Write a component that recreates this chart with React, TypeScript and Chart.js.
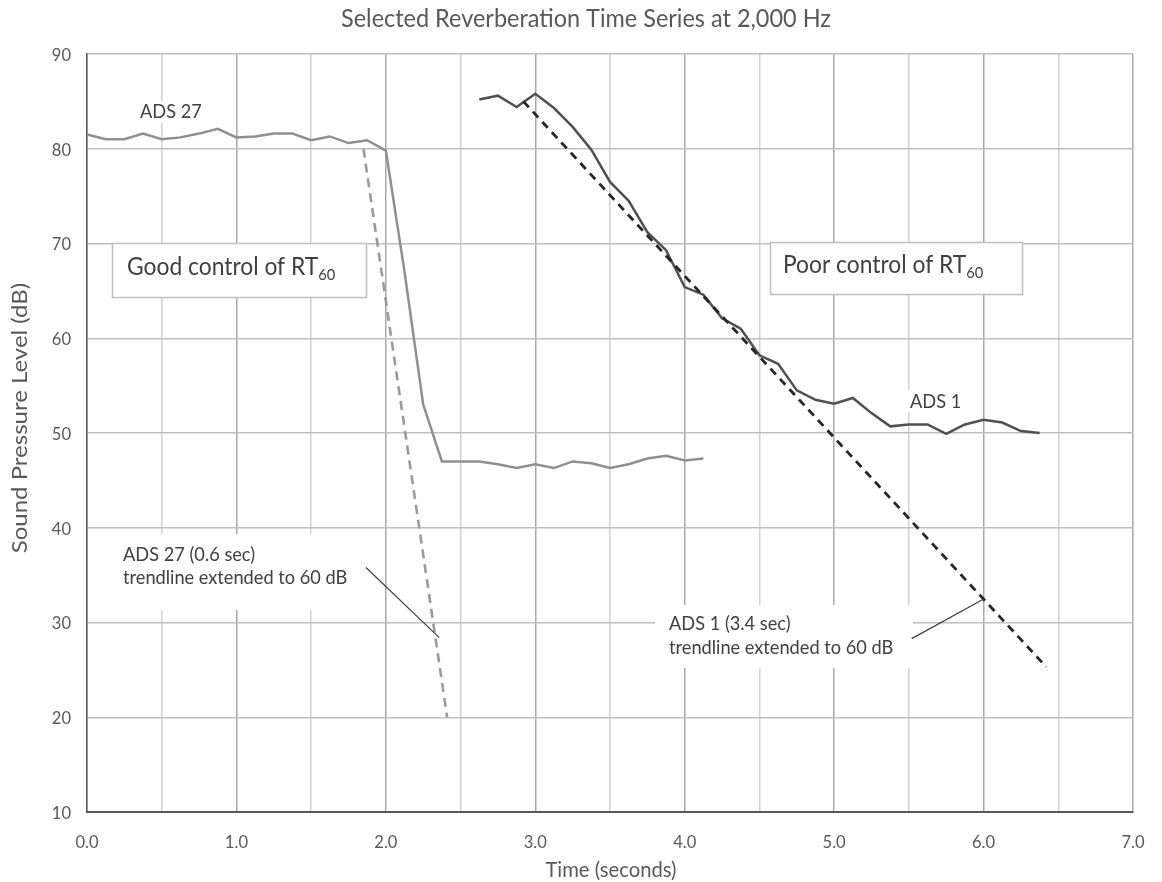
import { useEffect, useRef } from "react";
import { Chart, registerables } from "chart.js";

Chart.register(...registerables);

const FONT = "Lato, 'Open Sans', sans-serif";
// Excel-style text is slightly condensed horizontally
const SQUEEZE = 0.92;

const TITLE = "Selected Reverberation Time Series at 2,000 Hz";
const X_TITLE = "Time (seconds)";
const Y_TITLE = "Sound Pressure Level (dB)";

const X_TICKS = [0, 1, 2, 3, 4, 5, 6, 7];
const Y_TICKS = [10, 20, 30, 40, 50, 60, 70, 80, 90];

// ADS 27 – good control of reverberation
const ADS27_TIME = [
  0, 0.125, 0.25, 0.375, 0.5, 0.625, 0.75, 0.875, 1.0, 1.125, 1.25, 1.375,
  1.5, 1.625, 1.75, 1.875, 2.0, 2.125, 2.25, 2.375, 2.5, 2.625, 2.75, 2.875,
  3.0, 3.125, 3.25, 3.375, 3.5, 3.625, 3.75, 3.875, 4.0, 4.125,
];
const ADS27_SPL = [
  81.5, 81.0, 81.0, 81.6, 81.0, 81.2, 81.6, 82.1, 81.2, 81.3, 81.6, 81.6,
  80.9, 81.3, 80.6, 80.9, 79.8, 67.0, 53.0, 47.0, 47.0, 47.0, 46.7, 46.3,
  46.7, 46.3, 47.0, 46.8, 46.3, 46.7, 47.3, 47.6, 47.1, 47.3,
];

// ADS 1 – poor control of reverberation
const ADS1_TIME = [
  2.625, 2.75, 2.875, 3.0, 3.125, 3.25, 3.375, 3.5, 3.625, 3.75, 3.875, 4.0,
  4.125, 4.25, 4.375, 4.5, 4.625, 4.75, 4.875, 5.0, 5.125, 5.25, 5.375, 5.5,
  5.625, 5.75, 5.875, 6.0, 6.125, 6.25, 6.375,
];
const ADS1_SPL = [
  85.2, 85.6, 84.4, 85.8, 84.3, 82.3, 79.9, 76.5, 74.5, 71.2, 69.3, 65.4,
  64.6, 62.1, 61.0, 58.2, 57.3, 54.5, 53.5, 53.1, 53.7, 52.1, 50.7, 50.9,
  50.9, 49.9, 50.9, 51.4, 51.1, 50.2, 50.0,
];

// Linear decay trendlines extended to a 60 dB drop
const ADS27_TREND_TIME = [1.85, 2.41];
const ADS27_TREND_SPL = [80.0, 20.0];
const ADS1_TREND_TIME = [2.92, 6.42];
const ADS1_TREND_SPL = [85.0, 25.3];

// Callout leader lines (start near the text, end on the trendline)
const ADS27_LEADER_TIME = [1.867, 2.357];
const ADS27_LEADER_SPL = [35.8, 28.4];
const ADS1_LEADER_TIME = [5.519, 5.998];
const ADS1_LEADER_SPL = [28.3, 32.45];

const toPoints = (xs: number[], ys: number[]) =>
  xs.map((x, i) => ({ x, y: ys[i] }));

function drawText(
  ctx: CanvasRenderingContext2D,
  s: string,
  x: number,
  y: number,
  size: number,
  color: string,
  align: CanvasTextAlign = "left",
  baseline: CanvasTextBaseline = "alphabetic"
): number {
  ctx.save();
  ctx.font = `${size}px ${FONT}`;
  ctx.fillStyle = color;
  ctx.textAlign = align;
  ctx.textBaseline = baseline;
  ctx.translate(x, y);
  ctx.scale(SQUEEZE, 1);
  ctx.fillText(s, 0, 0);
  const w = ctx.measureText(s).width * SQUEEZE;
  ctx.restore();
  return w;
}

function whiteBox(
  ctx: CanvasRenderingContext2D,
  x: number,
  y: number,
  w: number,
  h: number,
  stroke?: string
) {
  ctx.save();
  ctx.fillStyle = "#ffffff";
  ctx.fillRect(x, y, w, h);
  if (stroke) {
    ctx.strokeStyle = stroke;
    ctx.lineWidth = 1.5;
    ctx.strokeRect(x + 0.5, y + 0.5, w, h);
  }
  ctx.restore();
}

const decorPlugin = {
  id: "decor",
  beforeDatasetsDraw(chart: any) {
    const ctx: CanvasRenderingContext2D = chart.ctx;
    // label backgrounds
    whiteBox(ctx, 136, 101, 66, 22);
    whiteBox(ctx, 905, 390, 58, 22);
    whiteBox(ctx, 110, 534, 254, 76);
    whiteBox(ctx, 655, 605, 258, 63);
    // RT60 boxes
    whiteBox(ctx, 112, 243, 254, 54, "#bfbfbf");
    whiteBox(ctx, 770, 242, 252, 52, "#bfbfbf");
  },
  afterDatasetsDraw(chart: any) {
    const ctx: CanvasRenderingContext2D = chart.ctx;
    const xs = chart.scales.x;
    const ys = chart.scales.y;
    const tickColor = "#595959";
    const textColor = "#404040";

    // tick labels
    X_TICKS.forEach((v) => {
      drawText(ctx, v.toFixed(1), xs.getPixelForValue(v), 842, 18, tickColor, "center", "middle");
    });
    Y_TICKS.forEach((v) => {
      drawText(ctx, String(v), 71, ys.getPixelForValue(v) + 1, 18, tickColor, "right", "middle");
    });

    // titles
    drawText(ctx, TITLE, 586, 19, 25.5, tickColor, "center", "middle");
    drawText(ctx, X_TITLE, 611, 870, 22, tickColor, "center", "middle");
    ctx.save();
    ctx.translate(20, 418);
    ctx.rotate(-Math.PI / 2);
    ctx.scale(1, SQUEEZE);
    ctx.font = `24px ${FONT}`;
    ctx.fillStyle = tickColor;
    ctx.textAlign = "center";
    ctx.textBaseline = "middle";
    ctx.fillText(Y_TITLE, 0, 0);
    ctx.restore();

    // RT60 box captions
    let w = drawText(ctx, "Good control of RT", 127, 275, 24.8, textColor);
    drawText(ctx, "60", 127 + w, 280, 16, textColor);
    w = drawText(ctx, "Poor control of RT", 783, 273, 24.8, textColor);
    drawText(ctx, "60", 783 + w, 278, 16, textColor);

    // series labels
    drawText(ctx, "ADS 27", 140, 118, 19.8, textColor);
    drawText(ctx, "ADS 1", 910, 408, 19.8, textColor);
    drawText(ctx, "ADS 27 (0.6 sec)", 123, 561, 19.8, textColor);
    drawText(ctx, "trendline extended to 60 dB", 123, 584, 19.8, textColor);
    drawText(ctx, "ADS 1 (3.4 sec)", 669, 630, 19.8, textColor);
    drawText(ctx, "trendline extended to 60 dB", 669, 654, 19.8, textColor);

    // leader lines
    const leader = (ts: number[], ss: number[]) => {
      ctx.save();
      ctx.strokeStyle = "#404040";
      ctx.lineWidth = 1.2;
      ctx.beginPath();
      ctx.moveTo(xs.getPixelForValue(ts[0]), ys.getPixelForValue(ss[0]));
      ctx.lineTo(xs.getPixelForValue(ts[1]), ys.getPixelForValue(ss[1]));
      ctx.stroke();
      ctx.restore();
    };
    leader(ADS27_LEADER_TIME, ADS27_LEADER_SPL);
    leader(ADS1_LEADER_TIME, ADS1_LEADER_SPL);
  },
};

export default function App() {
  const ref = useRef<HTMLCanvasElement | null>(null);

  useEffect(() => {
    document.body.style.margin = "0";
    const canvas = ref.current;
    if (!canvas) return;
    const chart = new Chart(canvas, {
      type: "line",
      data: {
        datasets: [
          {
            label: "ADS 27 trend",
            data: toPoints(ADS27_TREND_TIME, ADS27_TREND_SPL),
            borderColor: "#9a9a9a",
            borderWidth: 2.6,
            borderDash: [9, 6],
            order: 1,
          },
          {
            label: "ADS 1 trend",
            data: toPoints(ADS1_TREND_TIME, ADS1_TREND_SPL),
            borderColor: "#262626",
            borderWidth: 2.8,
            borderDash: [8, 6],
            order: 1,
          },
          {
            label: "ADS 27",
            data: toPoints(ADS27_TIME, ADS27_SPL),
            borderColor: "#8f8f8f",
            borderWidth: 2.5,
            order: 2,
          },
          {
            label: "ADS 1",
            data: toPoints(ADS1_TIME, ADS1_SPL),
            borderColor: "#505050",
            borderWidth: 2.5,
            order: 2,
          },
        ],
      },
      options: {
        animation: false,
        responsive: false,
        devicePixelRatio: 1,
        layout: { padding: { top: 54, right: 29, left: 0, bottom: 0 } },
        elements: { point: { radius: 0 }, line: { tension: 0 } },
        plugins: {
          legend: { display: false },
          tooltip: { enabled: false },
          title: { display: false },
        },
        scales: {
          x: {
            type: "linear",
            min: 0,
            max: 7,
            ticks: { stepSize: 0.5, display: false },
            grid: {
              color: (c: any) =>
                c.tick && Number.isInteger(c.tick.value) ? "#a8a8a8" : "#d2d2d2",
              lineWidth: 1.5,
              drawTicks: false,
            },
            border: { color: "#595959", width: 2 },
            afterFit: (s: any) => {
              s.height = 70;
            },
          },
          y: {
            type: "linear",
            min: 10,
            max: 90,
            ticks: { stepSize: 10, display: false },
            grid: { color: "#bfbfbf", lineWidth: 1.5, drawTicks: false },
            border: { color: "#595959", width: 1.5 },
            afterFit: (s: any) => {
              s.width = 87;
            },
          },
        },
      },
      plugins: [decorPlugin],
    });
    return () => chart.destroy();
  }, []);

  return (
    <canvas
      ref={ref}
      width={1162}
      height={882}
      style={{ display: "block", width: 1162, height: 882 }}
    />
  );
}
